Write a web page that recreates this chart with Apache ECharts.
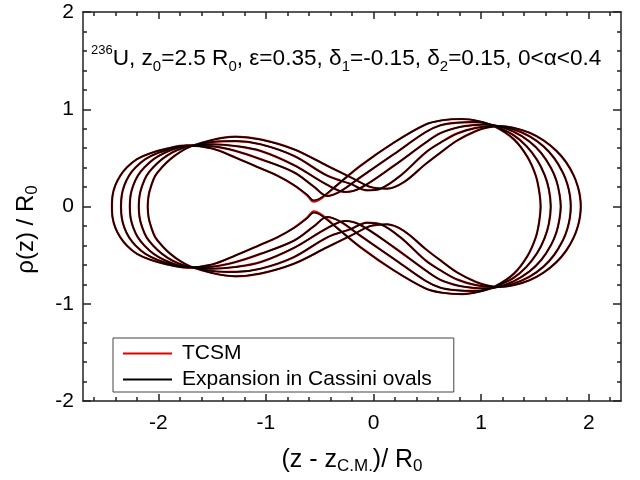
<!DOCTYPE html>
<html>
<head>
<meta charset="utf-8">
<script src="https://cdn.jsdelivr.net/npm/echarts@6/dist/echarts.min.js"></script>
<style>
  html, body { margin: 0; padding: 0; background: #fff; }
  #chart { width: 640px; height: 480px; }
</style>
</head>
<body>
<div id="chart"></div>
<script>
// Upper half of each nuclear shape, rho(z) in units of R0, from the left tip to the right tip.
const profile1 = [[-2.431,0],[-2.425,0.115],[-2.400,0.217],[-2.353,0.318],[-2.291,0.403],[-2.198,0.487],[-2.074,0.548],[-1.919,0.596],[-1.740,0.628],[-1.500,0.596],[-1.284,0.504],[-1.051,0.393],[-0.896,0.318],[-0.741,0.223],[-0.617,0.122],[-0.555,0.064],[-0.477,0.098],[-0.338,0.223],[-0.121,0.419],[0.189,0.657],[0.484,0.843],[0.639,0.887],[0.825,0.900],[0.980,0.876],[1.135,0.818],[1.305,0.690],[1.430,0.510],[1.507,0.320],[1.540,0.155],[1.553,0]];
const profile2 = [[-2.347,0],[-2.340,0.115],[-2.316,0.217],[-2.272,0.318],[-2.210,0.403],[-2.120,0.487],[-2.000,0.552],[-1.860,0.600],[-1.720,0.626],[-1.500,0.619],[-1.284,0.572],[-1.051,0.487],[-0.741,0.352],[-0.555,0.205],[-0.431,0.108],[-0.307,0.156],[-0.121,0.301],[0.189,0.538],[0.484,0.765],[0.623,0.835],[0.780,0.862],[0.930,0.868],[1.030,0.859],[1.135,0.824],[1.300,0.735],[1.420,0.622],[1.520,0.480],[1.590,0.325],[1.630,0.175],[1.647,0]];
const profile3 = [[-2.265,0],[-2.258,0.115],[-2.233,0.217],[-2.190,0.318],[-2.128,0.403],[-2.043,0.487],[-1.940,0.553],[-1.820,0.603],[-1.710,0.625],[-1.500,0.640],[-1.284,0.622],[-1.051,0.572],[-0.741,0.426],[-0.431,0.223],[-0.260,0.149],[-0.121,0.190],[0.189,0.419],[0.484,0.657],[0.623,0.755],[0.800,0.818],[0.920,0.836],[1.030,0.842],[1.135,0.833],[1.300,0.770],[1.450,0.668],[1.560,0.548],[1.650,0.395],[1.700,0.265],[1.728,0.130],[1.740,0]];
const profile4 = [[-2.182,0],[-2.174,0.115],[-2.149,0.217],[-2.109,0.318],[-2.047,0.403],[-1.965,0.487],[-1.870,0.556],[-1.760,0.607],[-1.700,0.622],[-1.500,0.663],[-1.284,0.673],[-1.051,0.640],[-0.741,0.521],[-0.431,0.318],[-0.214,0.233],[-0.059,0.166],[0.065,0.183],[0.251,0.318],[0.484,0.555],[0.623,0.657],[0.780,0.752],[0.950,0.808],[1.120,0.828],[1.300,0.793],[1.450,0.722],[1.580,0.618],[1.680,0.496],[1.760,0.348],[1.800,0.235],[1.825,0.115],[1.833,0]];
const profile5 = [[-2.099,0],[-2.090,0.115],[-2.065,0.217],[-2.028,0.318],[-1.966,0.403],[-1.888,0.487],[-1.795,0.562],[-1.702,0.616],[-1.501,0.684],[-1.284,0.718],[-1.051,0.690],[-0.741,0.589],[-0.431,0.419],[-0.183,0.284],[-0.028,0.200],[0.127,0.183],[0.282,0.250],[0.484,0.437],[0.623,0.555],[0.780,0.680],[0.950,0.775],[1.060,0.812],[1.180,0.828],[1.300,0.810],[1.450,0.758],[1.580,0.680],[1.700,0.572],[1.790,0.455],[1.860,0.320],[1.900,0.200],[1.920,0.095],[1.926,0]];

// TCSM profile of the first shape: it departs from the Cassini expansion only near the neck.
const tcsm1 = [[-2.431,0],[-2.425,0.115],[-2.400,0.217],[-2.353,0.318],[-2.291,0.403],[-2.198,0.487],[-2.074,0.548],[-1.919,0.596],[-1.740,0.628],[-1.500,0.596],[-1.284,0.504],[-1.051,0.393],[-0.896,0.318],[-0.741,0.220],[-0.617,0.115],[-0.555,0.050],[-0.477,0.090],[-0.338,0.220],[-0.121,0.419],[0.189,0.657],[0.484,0.843],[0.639,0.887],[0.825,0.900],[0.980,0.876],[1.135,0.818],[1.305,0.690],[1.430,0.510],[1.507,0.320],[1.540,0.155],[1.553,0]];

const cassiniProfiles = [profile1, profile2, profile3, profile4, profile5];
const tcsmProfiles = [tcsm1, profile2, profile3, profile4, profile5];

const xMajorTicks = [-2, -1, 0, 1, 2];
const xMinorTicks = [-2.6, -2.4, -2.2, -1.8, -1.6, -1.4, -1.2, -0.8, -0.6, -0.4, -0.2, 0.2, 0.4, 0.6, 0.8, 1.2, 1.4, 1.6, 1.8, 2.2];

const FONT = "'Liberation Sans', Arial, Helvetica, sans-serif";
const AXIS_COLOR = '#222';

// Closed outline: upper half, then its mirror image (rho -> -rho) traced back to the left tip.
function outline(upper) {
  const lower = upper.slice(0, -1).reverse().map(p => [p[0], -p[1]]);
  return upper.concat(lower);
}

function shapeSeries(profile, name, color, width, z) {
  return {
    type: 'line',
    name: name,
    data: outline(profile),
    xAxisIndex: 0,
    yAxisIndex: 0,
    symbol: 'none',
    showSymbol: false,
    smooth: 0.35,
    z: z,
    lineStyle: { color: color, width: width },
    itemStyle: { color: color },
    emphasis: { disabled: true }
  };
}

const series = [];
tcsmProfiles.forEach(p => series.push(shapeSeries(p, 'TCSM', '#e00000', 2.2, 2)));
cassiniProfiles.forEach(p => series.push(shapeSeries(p, 'Expansion in Cassini ovals', '#000000', 1.5, 3)));

function xAxisBase(position) {
  return {
    type: 'value', position: position, min: -2.7, max: 2.3,
    splitLine: { show: false },
    axisLine: { show: false, onZero: false, lineStyle: { color: AXIS_COLOR, width: 1.5 } },
    axisTick: { show: false },
    axisLabel: { show: false }
  };
}

const subStyle = { fontSize: 17, fontFamily: FONT, color: '#000', lineHeight: 10, verticalAlign: 'bottom' };

const xAxes = [
  Object.assign(xAxisBase('bottom'), {
    axisLine: { show: true, onZero: false, lineStyle: { color: AXIS_COLOR, width: 1.5 } },
    axisTick: { show: true, inside: true, length: 7, customValues: xMajorTicks, lineStyle: { color: AXIS_COLOR, width: 1.5 } },
    axisLabel: { show: true, customValues: xMajorTicks, fontSize: 21, fontFamily: FONT, color: '#000', margin: 12 },
    name: '(z - z{sub|C.M.})/ R{sub|0}',
    nameLocation: 'middle',
    nameGap: 44,
    nameTextStyle: { fontSize: 25, fontFamily: FONT, color: '#000', lineHeight: 30, rich: { sub: subStyle } }
  }),
  Object.assign(xAxisBase('bottom'), {
    axisTick: { show: true, inside: true, length: 4, customValues: xMinorTicks, lineStyle: { color: AXIS_COLOR, width: 1.5 } }
  }),
  Object.assign(xAxisBase('top'), {
    axisLine: { show: true, onZero: false, lineStyle: { color: AXIS_COLOR, width: 1.5 } },
    axisTick: { show: true, inside: true, length: 7, customValues: xMajorTicks, lineStyle: { color: AXIS_COLOR, width: 1.5 } }
  }),
  Object.assign(xAxisBase('top'), {
    axisTick: { show: true, inside: true, length: 4, customValues: xMinorTicks, lineStyle: { color: AXIS_COLOR, width: 1.5 } }
  })
];

function yAxis(position, withLabels) {
  const axis = {
    type: 'value', position: position, min: -2, max: 2, interval: 1,
    splitLine: { show: false },
    axisLine: { show: true, onZero: false, lineStyle: { color: AXIS_COLOR, width: 1.5 } },
    axisTick: { show: true, inside: true, length: 8, lineStyle: { color: AXIS_COLOR, width: 1.5 } },
    minorTick: { show: true, splitNumber: 5, length: 4, lineStyle: { color: AXIS_COLOR, width: 1.5 } },
    minorSplitLine: { show: false },
    axisLabel: { show: withLabels, fontSize: 21, fontFamily: FONT, color: '#000', margin: 9 }
  };
  if (withLabels) {
    axis.name = '\u03c1(z) / R{sub|0}';
    axis.nameLocation = 'middle';
    axis.nameRotate = 90;
    axis.nameGap = 42;
    axis.nameTextStyle = {
      fontSize: 24, fontFamily: FONT, color: '#000', lineHeight: 30,
      padding: [0, 46, 0, 0],
      rich: { sub: subStyle }
    };
  }
  return axis;
}

const chart = echarts.init(document.getElementById('chart'), null, { renderer: 'canvas' });
chart.setOption({
  animation: false,
  backgroundColor: '#fff',
  grid: { left: 83, top: 12, width: 538, height: 394, containLabel: false },
  title: {
    text: '{sup|236}U, z{sub|0}=2.5 R{sub|0}, \u03b5=0.35, \u03b4{sub|1}=-0.15, \u03b4{sub|2}=0.15, 0<\u03b1<0.4',
    left: 91, top: 44, padding: 0,
    textStyle: {
      fontSize: 22.6, fontWeight: 'normal', fontFamily: FONT, color: '#000', lineHeight: 30,
      rich: {
        sub: { fontSize: 15, fontFamily: FONT, color: '#000', lineHeight: 8, verticalAlign: 'bottom' },
        sup: { fontSize: 13, fontFamily: FONT, color: '#000', lineHeight: 12, verticalAlign: 'top' }
      }
    }
  },
  legend: {
    left: 113, top: 338, orient: 'vertical',
    data: [
      { name: 'TCSM', icon: 'rect' },
      { name: 'Expansion in Cassini ovals', icon: 'rect' }
    ],
    itemWidth: 49, itemHeight: 2, itemGap: 5,
    padding: [5, 22, 2, 10],
    borderColor: '#444', borderWidth: 1,
    selectedMode: false,
    textStyle: { fontSize: 21, fontFamily: FONT, color: '#000', lineHeight: 20, padding: [0, 0, 0, 5] }
  },
  xAxis: xAxes,
  yAxis: [yAxis('left', true), yAxis('right', false)],
  series: series
});
</script>
</body>
</html>
